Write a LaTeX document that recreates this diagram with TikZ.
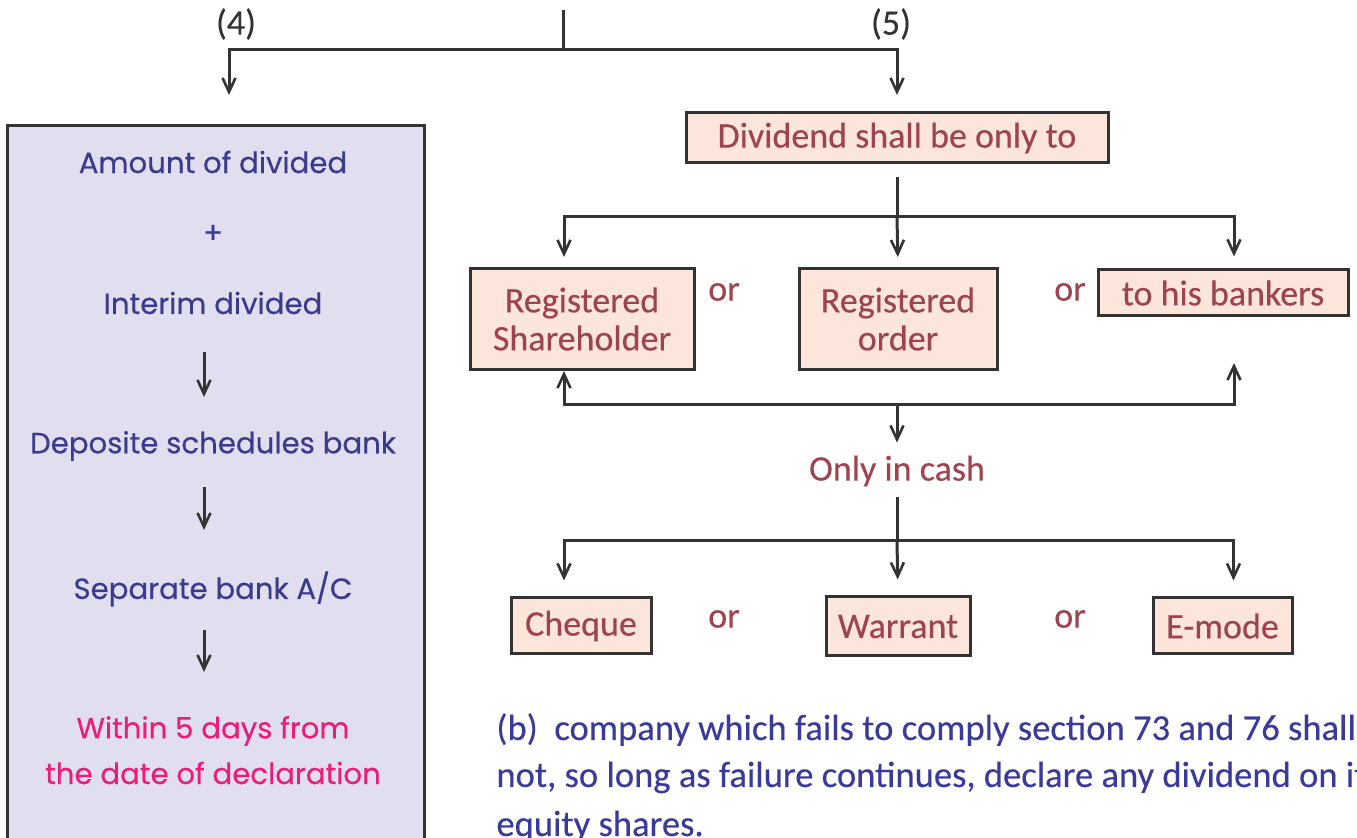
\documentclass[tikz,border=0pt]{standalone}
\usepackage{fontspec}
\usetikzlibrary{arrows.meta}
\newfontfamily\leftfont[FakeBold=0.4]{Poppins}
\newfontfamily\rightfont[FakeBold=0.3]{Carlito}
\definecolor{linecol}{HTML}{333333}
\definecolor{lavfill}{HTML}{E1DEEF}
\definecolor{blutext}{HTML}{3B3B8E}
\definecolor{pinktext}{HTML}{E91E7A}
\definecolor{boxfill}{HTML}{FCE5DB}
\definecolor{rosetext}{HTML}{9E4450}
\definecolor{parblue}{HTML}{3A3A9A}
\tikzset{
  conn/.style={draw=linecol, line width=1.5pt},
  arr/.style={conn, -{Straight Barb[length=7pt,width=6.5pt,line width=1.3pt]}},
  pinkbox/.style={draw=linecol, line width=1.5pt, fill=boxfill, text=rosetext,
    font=\rightfont\fontsize{18}{19}\selectfont, inner sep=0pt, align=center},
  ortext/.style={text=rosetext, font=\rightfont\fontsize{18}{19}\selectfont},
  lefttext/.style={text=blutext, font=\leftfont\fontsize{14.6}{17}\selectfont},
  partext/.style={text=parblue, font=\rightfont\fontsize{18.3}{20}\selectfont, anchor=base west, inner sep=0pt},
  numtext/.style={text=linecol, font=\rightfont\fontsize{18}{19}\selectfont}
}
\begin{document}
\begin{tikzpicture}[x=0.5pt,y=-0.5pt]
\useasboundingbox (0,0) rectangle (1357,838);

% top split into the two branches
\coordinate (top) at (563,10);
\coordinate (split) at (563,50);
\coordinate (to4) at (229,95);
\coordinate (to5) at (897,95);
\node[numtext] (n4) at (236,24) {(4)};
\node[numtext] (n5) at (891,24) {(5)};
\draw[conn] (top) -- (split);
\draw[arr] (split) -| (to4);
\draw[arr] (split) -| (to5);

% branch (4): deposit procedure
\draw[draw=linecol, line width=1.5pt, fill=lavfill] (7,126) rectangle (424,860);
\node[lefttext] (amt) at (213,162) {Amount of divided};
\node[lefttext] (plus) at (213,234) {+};
\node[lefttext] (interim) at (213,303) {Interim divided};
\node[lefttext] (deposit) at (213,446) {Deposite schedules bank};
\node[lefttext] (sep) at (213,589) {Separate bank A/C};
\node[lefttext, text=pinktext] (within) at (213,731) {Within 5 days from};
\node[lefttext, text=pinktext] (decl) at (213,773) {the date of declaration};
\coordinate (a1s) at (204,352); \coordinate (a1e) at (204,397);
\coordinate (a2s) at (204,487); \coordinate (a2e) at (204,530);
\coordinate (a3s) at (204,630); \coordinate (a3e) at (204,672);
\draw[arr] (a1s) -- (a1e);
\draw[arr] (a2s) -- (a2e);
\draw[arr] (a3s) -- (a3e);

% branch (5): payment of dividend
\node[pinkbox, minimum width=211pt, minimum height=25pt] (div) at (897,138) {Dividend shall be only to};
\node[pinkbox, minimum width=112pt, minimum height=50.5pt] (rs) at (582,319) {Registered\\Shareholder};
\node[pinkbox, minimum width=99pt, minimum height=50.5pt] (ro) at (898,319) {Registered\\order};
\node[pinkbox, minimum width=125pt, minimum height=23pt] (bank) at (1223,293) {to his bankers};
\node[ortext] (or1) at (724,292) {or};
\node[ortext] (or2) at (1070,292) {or};

\coordinate (bus1) at (897,217);
\draw[conn, shorten <=6.5pt] (div.south) -- (bus1);
\draw[arr, shorten >=5pt] (bus1) -| ([xshift=-9pt]rs.north);
\draw[arr, shorten >=5pt] (bus1) -- (ro.north);
\draw[arr, shorten >=6pt] (bus1) -| ([xshift=5.5pt]bank.north);

\node[ortext] (cash) at (897,471) {Only in cash};
\coordinate (bus2) at (897,405);
\coordinate (bankup) at (1234,363);
\draw[arr] (bus2) -| ([xshift=-9pt]rs.south);
\draw[arr] (bus2) -| (bankup);
\draw[arr, shorten >=3pt] (bus2) -- (cash.north);

\node[pinkbox, minimum width=70pt, minimum height=28pt] (cheque) at (581,626) {Cheque};
\node[pinkbox, minimum width=72pt, minimum height=29.5pt] (warrant) at (898,626.5) {Warrant};
\node[pinkbox, minimum width=69.5pt, minimum height=28pt] (emode) at (1222.5,626) {E-mode};
\node[ortext] (or3) at (724,619) {or};
\node[ortext] (or4) at (1070,619) {or};

\coordinate (bus3) at (897,541);
\draw[conn, shorten <=2pt] (cash.south) -- (bus3);
\draw[arr, shorten >=8pt] (bus3) -| ([xshift=-8.5pt]cheque.north);
\draw[arr, shorten >=8pt] (bus3) -- (warrant.north);
\draw[arr, shorten >=8pt] (bus3) -| ([xshift=5.5pt]emode.north);

% note (b)
\node[partext] (pb1) at (496,740) {(b)\ \ company which fails to comply section 73 and 76 shall};
\node[partext] (pb2) at (496,787) {not, so long as failure continues, declare any dividend on its};
\node[partext] (pb3) at (496,836) {equity shares.};
\end{tikzpicture}
\end{document}
